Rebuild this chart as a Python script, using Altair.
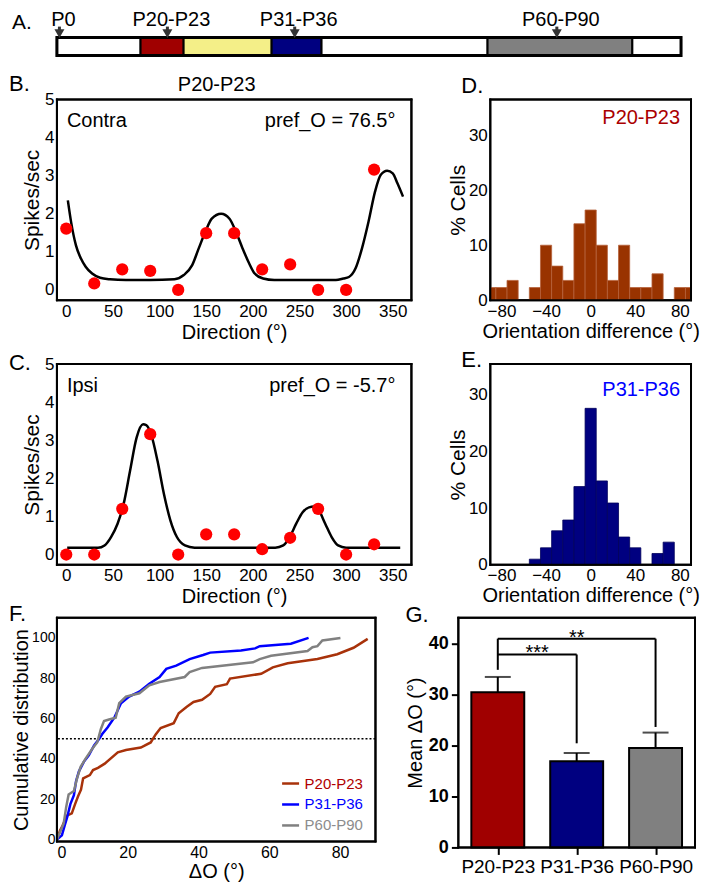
import altair as alt
import pandas as pd

FONT = "Liberation Sans"

# ---------------- Panel A : timeline ----------------
stages = ["P0-P19", "P20-P23", "P24-P30", "P31-P36", "P37-P59", "P60-P90", "P90+"]
stage_start = [0, 13.4, 20.3, 34.4, 42.4, 69.0, 92.2]
stage_end = [13.4, 20.3, 34.4, 42.4, 69.0, 92.2, 100]
arrow_pos = [0.4, 17.7, 38.1, 80.1]
arrow_label = ["P0", "P20-P23", "P31-P36", "P60-P90"]
stage_colors = ["white", "#a00000", "#f4ef88", "#000080", "white", "#808080", "white"]

# ---------------- Panels B, C : tuning curves ----------------
directions = [0, 30, 60, 90, 120, 150, 180, 210, 240, 270, 300, 330]
contra_rate = [1.61, 0.17, 0.54, 0.50, 0.0, 1.49, 1.49, 0.54, 0.67, 0.0, 0.0, 3.16]
ipsi_rate = [0.0, 0.0, 1.2, 3.16, 0.0, 0.53, 0.53, 0.14, 0.44, 1.2, 0.0, 0.27]
contra_fit_dir = [1.7, 5.2, 10.4, 15.6, 20.8, 27.7, 36.3, 46.7, 64, 90, 116, 126, 135, 142, 149,
                  156, 166, 175, 182, 189, 196, 202, 211, 223, 260, 289, 297, 303, 310, 317, 324,
                  331, 337, 344, 350, 355, 361]
contra_fit_rate = [2.35, 1.78, 1.17, 0.83, 0.61, 0.43, 0.32, 0.28, 0.26, 0.26, 0.28, 0.39, 0.65,
                   1.09, 1.52, 1.87, 2.0, 1.87, 1.52, 1.09, 0.70, 0.43, 0.30, 0.26, 0.26, 0.26,
                   0.30, 0.34, 0.56, 1.09, 1.79, 2.58, 3.02, 3.13, 3.06, 2.80, 2.45]
ipsi_fit_dir = [1, 34, 41, 48, 55, 61.5, 68.4, 75.4, 82.3, 85.7, 90.9, 97.8, 104.7, 111.6, 118.6,
                127.2, 137.6, 180, 224, 232.6, 239.5, 246.5, 253.4, 260.3, 265.5, 270.7, 277.6,
                284.5, 291.4, 300, 330, 358]
ipsi_fit_rate = [0.18, 0.18, 0.24, 0.46, 0.81, 1.33, 2.2, 3.07, 3.42, 3.4, 3.16, 2.46, 1.59, 0.9,
                 0.46, 0.24, 0.18, 0.18, 0.18, 0.24, 0.46, 0.81, 1.11, 1.24, 1.26, 1.16, 0.81,
                 0.46, 0.24, 0.18, 0.18, 0.18]

# ---------------- Panels D, E : histograms ----------------
bin_centers = [-90, -80, -70, -60, -50, -40, -30, -20, -10, 0, 10, 20, 30, 40, 50, 60, 70, 80, 90]
p20_pct = [2.3, 2.3, 3.6, 0, 2.3, 10.0, 6.2, 3.6, 13.9, 16.4, 10.0, 3.6, 10.0, 2.3, 2.3, 4.8, 0, 2.3, 2.3]
p31_pct = [0, 0, 0, 0, 1.0, 3.0, 6.0, 7.9, 13.8, 27.6, 14.8, 10.9, 4.9, 3.0, 0, 2.0, 4.0, 0, 0]

# ---------------- Panel F : cumulative distributions ----------------
groups = ["P20-P23", "P31-P36", "P60-P90"]
p20_dO = [0, 0.9, 1.4, 2.8, 4.2, 5.1, 6.0, 6.8, 7.4, 9.3, 10.2, 11.6, 13.5, 17.2, 19.5, 23.7, 26.5,
          27.9, 29.3, 33.0, 34.4, 36.7, 38.6, 41.0, 43.3, 44.7, 48.0, 48.9, 57.7, 61.0, 65.2,
          73.6, 79.2, 83.8, 87.8]
p20_cum = [0, 4.5, 6.1, 11.8, 12.9, 17.4, 21.5, 24.7, 30.3, 31.9, 34.4, 35.5, 37.6, 43.2, 44.4,
           45.6, 48.1, 52.1, 55.3, 57.7, 62.6, 65.8, 68.2, 69.3, 72.2, 75.7, 77.0, 79.8, 82.2,
           85.4, 87.4, 89.5, 91.9, 95.1, 99.5]
p31_dO = [0, 1.4, 2.2, 2.9, 3.8, 4.8, 5.4, 6.2, 7.6, 9.0, 10.5, 11.9, 12.8, 14.3, 16.2, 18.1, 20.4,
          23.3, 26.1, 29.0, 30.9, 33.7, 37.5, 41.3, 43.3, 52.0, 56.0, 57.3, 66.1, 71.1]
p31_cum = [0, 2, 7, 11, 17.5, 22, 28.8, 33.7, 38.5, 41.7, 46.6, 49.8, 52.3, 55.5, 60.4, 67.6, 70.9,
           73.3, 77.3, 80.6, 84.6, 86.2, 89.5, 91.5, 92.7, 93.8, 94.8, 95.9, 97.1, 100]
p60_dO = [0, 1.9, 2.6, 3.3, 4.8, 5.7, 6.7, 8.1, 10.0, 11.4, 12.4, 13.3, 14.7, 16.6, 17.6, 19.5,
          23.3, 26.1, 29.0, 36.1, 37.5, 41.0, 55.4, 57.3, 60.5, 70.8, 72.2, 73.6, 75.0, 80.1]
p60_cum = [0, 7.8, 15.9, 22.3, 24.0, 30.4, 36.0, 40.1, 45.0, 48.2, 54.7, 58.7, 59.5, 60.4, 67.6,
           70.9, 72.5, 76.5, 78.1, 80.6, 83.0, 85.1, 87.9, 89.5, 91.1, 93.5, 95.4, 95.9, 98.7, 100]
median_level = [50]
f_colors = ["#a8320a", "#0000ff", "#808080"]
f_label_colors = ["#b00000", "#0000ff", "#8c8c8c"]

# ---------------- Panel G : mean delta O ----------------
group_pos = [1, 2, 3]
mean_dO = [30.4, 16.9, 19.5]
upper_dO = [33.4, 18.5, 22.5]
g_colors = ["#a00000", "#000080", "#808080"]
bracket_from = [1, 1]
bracket_to = [2, 3]
bracket_height = [37.8, 40.9]
bracket_stars = ["***", "**"]
leg_pos = [1, 2, 3]
leg_low = [34.8, 20.4, 23.6]
leg_high = [40.9, 37.8, 40.9]

# scale domains (axis settings)
DIR_DOM = [-10, 370]
RATE_DOM = [-0.27, 5.0]
ORI_DOM = [-90, 90]
DO_DOM = [0, 90]
CUM_DOM = [-1, 110]
POS_DOM = [0.5, 3.5]
MEAN_DOM = [0, 45]
A_DOM = [0, 100]


def label(text, x, y, size=20, color="black", align="left", weight="normal"):
    return alt.Chart(pd.DataFrame({"t": [text]})).mark_text(
        font=FONT, fontSize=size, color=color, align=align, baseline="alphabetic",
        fontWeight=weight
    ).encode(x=alt.value(x), y=alt.value(y), text="t:N")


def frame(xd, yd, width=2):
    # the four edges of the plot box, drawn through the panel's own scales
    df = pd.DataFrame({
        "fx0": [xd[0], xd[1], xd[0], xd[0]],
        "fx1": [xd[0], xd[1], xd[1], xd[1]],
        "fy0": [yd[0], yd[0], yd[0], yd[1]],
        "fy1": [yd[1], yd[1], yd[0], yd[1]],
    })
    return alt.Chart(df).mark_rule(color="black", strokeWidth=width, strokeCap="square").encode(
        x="fx0:Q", x2="fx1:Q", y="fy0:Q", y2="fy1:Q")


def ax(**kw):
    base = dict(grid=False, domain=False, labelFont=FONT, titleFont=FONT, labelColor="black",
                titleColor="black", titleFontWeight="normal", labelFontSize=17, titleFontSize=20,
                ticks=False, labelPadding=3, titlePadding=2, labelOverlap=False)
    base.update(kw)
    return alt.Axis(**base)


# ---------- A ----------
a_df = pd.DataFrame({"start": stage_start, "end": stage_end, "stage": stages})
a_arrows = pd.DataFrame({"pos": arrow_pos, "lab": arrow_label})
a_scale = alt.Scale(domain=A_DOM, nice=False, zero=False)
a_bar = alt.Chart(a_df).mark_rect(stroke="black", strokeWidth=2).encode(
    x=alt.X("start:Q", scale=a_scale, axis=None), x2="end:Q",
    fill=alt.Fill("stage:N", scale=alt.Scale(domain=stages, range=stage_colors), legend=None))
a_frame = alt.Chart(pd.DataFrame({"s": [A_DOM[0]], "e": [A_DOM[1]]})).mark_rect(
    fill="transparent", stroke="black", strokeWidth=3).encode(
    x=alt.X("s:Q", scale=a_scale, axis=None), x2="e:Q")
a_shaft = alt.Chart(a_arrows).mark_rule(color="#333333", strokeWidth=3).encode(
    x=alt.X("pos:Q", scale=a_scale, axis=None), y=alt.value(-11), y2=alt.value(-6))
a_head = alt.Chart(a_arrows).mark_point(shape="triangle-down", filled=True, size=100,
                                        color="#333333", opacity=1).encode(
    x=alt.X("pos:Q", scale=a_scale, axis=None), y=alt.value(-4))
a_text = alt.Chart(a_arrows).mark_text(font=FONT, fontSize=20, baseline="alphabetic", dx=4).encode(
    x=alt.X("pos:Q", scale=a_scale, axis=None), y=alt.value(-12), text="lab:N")
panelA = alt.layer(a_bar, a_frame, a_shaft, a_head, a_text, label("A.", -45, -9, 21)).properties(
    width=625, height=18)


# ---------- B / C ----------
def tuning(fit_dir, fit_rate, rate, side, pref, letter, letter_y, width, height, title=None):
    fit = pd.DataFrame({"dir": fit_dir, "rate": fit_rate})
    pts = pd.DataFrame({"dir": directions, "rate": rate})
    xe = alt.X("dir:Q", scale=alt.Scale(domain=DIR_DOM, nice=False, zero=False, padding=0),
               axis=ax(values=[0, 50, 100, 150, 200, 250, 300, 350], title="Direction (°)",
                       titlePadding=3))
    ye = alt.Y("rate:Q", scale=alt.Scale(domain=RATE_DOM, nice=False, zero=False, padding=0),
               axis=ax(values=[0, 1, 2, 3, 4, 5], title="Spikes/sec", titleFontSize=21))
    line = alt.Chart(fit).mark_line(color="black", strokeWidth=2.5, interpolate="monotone",
                                    clip=True).encode(x=xe, y=ye)
    dots = alt.Chart(pts).mark_circle(color="#ff0000", size=150, opacity=1).encode(
        x="dir:Q", y="rate:Q")
    layers = [line, dots, frame(DIR_DOM, RATE_DOM),
              label(side, 10, 28),
              label(pref, width - 16, 28, align="right"),
              label(letter, -48, letter_y, 22)]
    if title:
        layers.append(label(title, 160, -9, align="center"))
    return alt.layer(*layers).properties(width=width, height=height)


panelB = tuning(contra_fit_dir, contra_fit_rate, contra_rate, "Contra", "pref_O = 76.5°",
                "B.", -9, 355, 201, title="P20-P23")
panelC = tuning(ipsi_fit_dir, ipsi_fit_rate, ipsi_rate, "Ipsi", "pref_O = -5.7°",
                "C.", 6, 355, 201)


# ---------- D / E ----------
def histo(pct, fill, stroke, tag, tag_color, tag_y, letter, letter_y, height, ymax):
    df = pd.DataFrame({"center": bin_centers, "pct": pct})
    bars = alt.Chart(df).transform_filter("datum.pct > 0").transform_calculate(
        lo="datum.center - 5", hi="datum.center + 5"
    ).mark_rect(fill=fill, stroke=stroke, strokeWidth=0.8, clip=True).encode(
        x=alt.X("lo:Q", scale=alt.Scale(domain=ORI_DOM, nice=False, zero=False, padding=0),
                axis=ax(values=[-80, -40, 0, 40, 80], title="Orientation difference (°)",
                        titleFontSize=20)),
        x2="hi:Q",
        y=alt.Y("pct:Q", scale=alt.Scale(domain=[0, ymax], nice=False, zero=False, padding=0),
                axis=ax(values=[0, 10, 20, 30], title="% Cells", titleFontSize=21,
                        titlePadding=0)),
        y2=alt.datum(0))
    return alt.layer(bars, frame(ORI_DOM, [0, ymax]),
                     label(tag, 190, tag_y, 20, tag_color, align="right"),
                     label(letter, -29, letter_y, 22)).properties(width=201, height=height)


panelD = histo(p20_pct, "#993300", "#b5613a", "P20-P23", "#aa0000", 25, "D.", -7, 201, 36.5)
panelE = histo(p31_pct, "#000080", "#00005a", "P31-P36", "#0000ff", 32, "E.", 3, 201, 35.4)

# ---------- F ----------
f_df = pd.concat([
    pd.DataFrame({"dO": p20_dO, "cum": p20_cum, "group": groups[0]}),
    pd.DataFrame({"dO": p31_dO, "cum": p31_cum, "group": groups[1]}),
    pd.DataFrame({"dO": p60_dO, "cum": p60_cum, "group": groups[2]}),
])
label_color_expr = " : ".join(
    f"datum.label == '{g}' ? '{c}'" for g, c in zip(groups[:-1], f_label_colors[:-1])
) + f" : '{f_label_colors[-1]}'"
f_lines = alt.Chart(f_df).mark_line(strokeWidth=2.5, clip=True).encode(
    x=alt.X("dO:Q", scale=alt.Scale(domain=DO_DOM, nice=False, zero=False, padding=0),
            axis=ax(values=[0, 20, 40, 60, 80], title="ΔO (°)", labelFontSize=16,
                    titleFontSize=20, titlePadding=1)),
    y=alt.Y("cum:Q", scale=alt.Scale(domain=CUM_DOM, nice=False, zero=False, padding=0),
            axis=ax(values=[0, 20, 40, 60, 80, 100], title="Cumulative distribution",
                    labelFontSize=14, titleFontSize=20, titlePadding=0, labelPadding=2)),
    color=alt.Color("group:N", scale=alt.Scale(domain=groups, range=f_colors),
                    legend=alt.Legend(orient="none", legendX=224, legendY=156, title=None,
                                      symbolType="stroke", symbolStrokeWidth=2.5,
                                      symbolSize=289, labelFontSize=15, labelFont=FONT,
                                      labelOffset=4, rowPadding=3, padding=0,
                                      labelColor={"expr": label_color_expr})))
f_half = alt.Chart(pd.DataFrame({"lvl": median_level})).mark_rule(
    color="black", strokeWidth=1.5, strokeDash=[2, 2]).encode(y="lvl:Q")
panelF = alt.layer(f_half, f_lines, frame(DO_DOM, CUM_DOM), label("F.", -48, 3, 22)).properties(
    width=319, height=224)

# ---------- G ----------
g_df = pd.DataFrame({"pos": group_pos, "group": groups, "mean": mean_dO, "upper": upper_dO})
label_expr = "[" + ",".join(["''"] + [f"'{g}'" for g in groups]) + "][datum.value]"
gx = alt.X("pos:Q", scale=alt.Scale(domain=POS_DOM, nice=False, zero=False, padding=0),
           axis=ax(values=group_pos, labelExpr=label_expr, title=None, labelFontSize=19,
                   ticks=True, tickSize=7, tickWidth=2, tickColor="black", labelPadding=3))
gy = alt.Y("mean:Q", scale=alt.Scale(domain=MEAN_DOM, nice=False, padding=0),
           axis=ax(values=[0, 10, 20, 30, 40], title="Mean ΔO (°)", labelFontSize=18,
                   labelFontWeight="bold", ticks=True, tickSize=7, tickWidth=2,
                   tickColor="black", labelPadding=3, titlePadding=3))
g_bars = alt.Chart(g_df).mark_bar(size=53, orient="vertical", stroke="black", strokeWidth=2).encode(
    x=gx, y=gy,
    fill=alt.Fill("group:N", scale=alt.Scale(domain=groups, range=g_colors), legend=None))
g_err = alt.Chart(g_df).mark_rule(color="black", strokeWidth=2).encode(
    x="pos:Q", y="mean:Q", y2="upper:Q")
g_cap = alt.Chart(g_df).mark_tick(orient="horizontal", size=26, thickness=2, color="black").encode(
    x="pos:Q", y="upper:Q")
br_df = pd.DataFrame({"a": bracket_from, "b": bracket_to, "h": bracket_height, "s": bracket_stars})
g_brh = alt.Chart(br_df).mark_rule(color="black", strokeWidth=2).encode(
    x="a:Q", x2="b:Q", y="h:Q")
g_stars = alt.Chart(br_df).transform_calculate(mid="(datum.a + datum.b) / 2").mark_text(
    font=FONT, fontSize=20, baseline="alphabetic", dy=5).encode(x="mid:Q", y="h:Q", text="s:N")
leg_df = pd.DataFrame({"pos": leg_pos, "lo": leg_low, "hi": leg_high})
g_legs = alt.Chart(leg_df).mark_rule(color="black", strokeWidth=2).encode(
    x="pos:Q", y="lo:Q", y2="hi:Q")
panelG = alt.layer(g_bars, g_err, g_cap, g_brh, g_legs, g_stars, frame(POS_DOM, MEAN_DOM),
                   label("G.", -53, 4, 22)).properties(width=237, height=230)

RES = dict(color="independent", fill="independent", stroke="independent")
LEG = dict(color="independent", fill="independent")

rowA = alt.hconcat(panelA).resolve_scale(**RES).resolve_legend(**LEG)
rowBD = alt.hconcat(panelB, panelD, spacing=32).resolve_scale(**RES).resolve_legend(**LEG)
rowCE = alt.hconcat(panelC, panelE, spacing=32).resolve_scale(**RES).resolve_legend(**LEG)
rowFG = alt.hconcat(panelF, panelG, spacing=25).resolve_scale(**RES).resolve_legend(**LEG)
upper = alt.concat(rowBD, rowCE, columns=1, align="none", spacing=5).resolve_scale(
    **RES).resolve_legend(**LEG)
body = alt.concat(upper, rowFG, columns=1, align="none", spacing=-6).resolve_scale(
    **RES).resolve_legend(**LEG)
chart = alt.concat(rowA, body, columns=1, align="none", spacing=13).resolve_scale(**RES).resolve_legend(
    **LEG).properties(padding=0, background="white").configure_view(stroke="black", strokeWidth=2)

chart.save("out.html", embed_options={"renderer": "svg", "actions": False})
